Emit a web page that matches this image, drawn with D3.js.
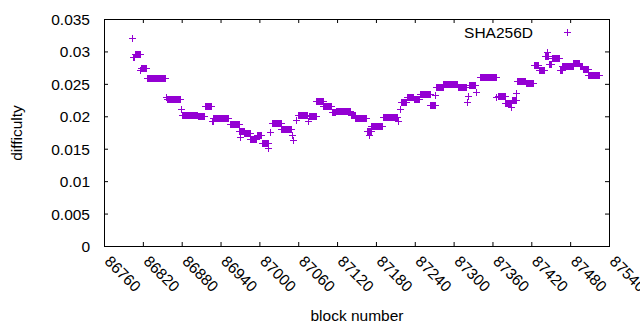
<!DOCTYPE html>
<html><head><meta charset="utf-8">
<script src="https://cdn.jsdelivr.net/npm/d3@7"></script>
<style>
body{margin:0;background:#fff}
svg{display:block}
text{font-family:"Liberation Sans",Arial,sans-serif;font-size:15.5px;fill:#000}
</style>
</head><body><svg id="c" width="640" height="330"></svg>
<script>
const xTicks = [86760,86820,86880,86940,87000,87060,87120,87180,87240,87300,87360,87420,87480,87540];
const yTicks = [0,0.005,0.01,0.015,0.02,0.025,0.03,0.035];
const yTickLabels = ["0","0.005","0.01","0.015","0.02","0.025","0.03","0.035"];
const seriesName = "SHA256D";
const xTitle = "block number";
const yTitle = "difficulty";
// runs of consecutive blocks sharing one difficulty value
const runStart = [86804,86805,86808,86816,86817,86827,86856,86857,86879,86880,86905,86916,86927,86929,86954,86969,86970,86977,86986,86996,87004,87013,87016,87019,87034,87051,87052,87057,87060,87075,87077,87088,87099,87112,87118,87141,87148,87166,87170,87173,87191,87214,87217,87218,87228,87239,87248,87264,87272,87273,87284,87307,87320,87322,87324,87335,87340,87366,87369,87380,87388,87390,87397,87398,87412,87424,87432,87441,87444,87448,87452,87464,87468,87485,87495,87500,87508];
const runEnd   = [86804,86806,86815,86816,86825,86854,86856,86878,86879,86904,86915,86925,86928,86952,86968,86976,86970,86985,86995,87003,87014,87013,87016,87033,87049,87051,87052,87057,87073,87075,87087,87098,87111,87117,87140,87147,87164,87172,87170,87190,87212,87214,87217,87227,87238,87247,87263,87271,87272,87283,87306,87319,87320,87322,87333,87335,87365,87366,87379,87389,87388,87397,87397,87411,87422,87431,87440,87446,87444,87450,87463,87467,87484,87494,87499,87507,87525];
const runValue = [0.0320,0.0291,0.0296,0.0271,0.0274,0.0259,0.0230,0.02266,0.0211,0.0202,0.0200,0.02154,0.0193,0.0198,0.01886,0.01773,0.01676,0.01736,0.01654,0.01706,0.01588,0.01506,0.01753,0.01891,0.0181,0.01711,0.01634,0.0194,0.02025,0.0193,0.02012,0.02243,0.02154,0.02066,0.02081,0.02027,0.01973,0.0178,0.0171,0.01845,0.01994,0.0192,0.02107,0.0222,0.02293,0.02271,0.0234,0.02174,0.02328,0.02444,0.02493,0.02447,0.02225,0.02317,0.02478,0.0238,0.02601,0.02302,0.02313,0.02205,0.02148,0.0225,0.02354,0.02549,0.02518,0.02786,0.02718,0.02925,0.02996,0.0280,0.02894,0.02713,0.0277,0.02826,0.02778,0.02729,0.02644];

const color = "#9400d3";
const L = 104, R = 609, T = 19, B = 246;
const svg = d3.select("#c");
const x = d3.scaleLinear().domain([86760, 87540]).range([L, R]);
const y = d3.scaleLinear().domain([0, 0.035]).range([B, T]);

const points = [];
runStart.forEach((s, i) => {
  for (let b = s; b <= runEnd[i]; b++) points.push({block: b, difficulty: runValue[i]});
});

// border
svg.append("rect").attr("x", L + 0.5).attr("y", T + 0.5).attr("width", R - L).attr("height", B - T)
  .attr("fill", "none").attr("stroke", "#000").attr("stroke-width", 1);

const gB = svg.append("g").attr("transform", `translate(0,${B})`)
  .call(d3.axisBottom(x).tickValues(xTicks).tickSize(-4).tickSizeOuter(0).tickFormat(d3.format("d")));
gB.selectAll("text").attr("x", -1).attr("y", 0).attr("dy", null)
  .attr("transform", "translate(0,17) rotate(45)").style("text-anchor", "start");
const gT = svg.append("g").attr("transform", `translate(0,${T})`)
  .call(d3.axisTop(x).tickValues(xTicks).tickSize(-4).tickSizeOuter(0).tickFormat(""));
const gL = svg.append("g").attr("transform", `translate(${L},0)`)
  .call(d3.axisLeft(y).tickValues(yTicks).tickSize(-4).tickSizeOuter(0).tickPadding(14)
    .tickFormat((d, i) => yTickLabels[i]));
const gR = svg.append("g").attr("transform", `translate(${R},0)`)
  .call(d3.axisRight(y).tickValues(yTicks).tickSize(-4).tickSizeOuter(0).tickFormat(""));
[gB, gT, gL, gR].forEach(g => {
  g.select(".domain").remove();
  g.attr("font-family", null).attr("font-size", null);
  g.selectAll("line").attr("stroke", "#000");
});
gL.selectAll("text").attr("dy", "0.35em");

// titles
svg.append("text").attr("x", (L + R) / 2 + 0.5).attr("y", 321).attr("text-anchor", "middle").text(xTitle);
svg.append("text").attr("transform", `translate(21.5,${(T + B) / 2 + 0.5}) rotate(-90)`)
  .attr("text-anchor", "middle").text(yTitle);

const plus = "M-3.5,0H3.5M0,-3.5V3.5";
svg.append("g").selectAll("path").data(points).join("path")
  .attr("transform", d => `translate(${Math.round(x(d.block)) + 0.5},${Math.round(y(d.difficulty)) + 0.5})`)
  .attr("d", plus).attr("fill", "none").attr("stroke", color).attr("stroke-width", 1);

// legend
svg.append("text").attr("x", 533).attr("y", 37.5).attr("text-anchor", "end").text(seriesName);
svg.append("path").attr("transform", "translate(567.5,32.5)").attr("d", plus)
  .attr("fill", "none").attr("stroke", color).attr("stroke-width", 1);
</script>
</body></html>
